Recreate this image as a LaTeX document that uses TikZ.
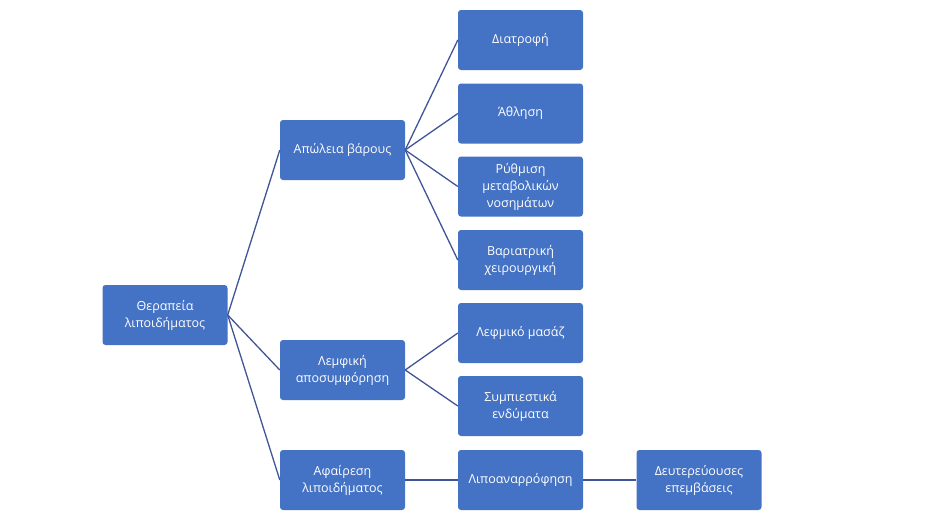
\documentclass[tikz,border=0pt]{standalone}
\usepackage{fontspec}
\setmainfont{Open Sans}
\begin{document}
\begin{tikzpicture}[x=1pt,y=-1pt,
 box/.style={fill=boxc,rounded corners=3pt,text=white,minimum width=125pt,minimum height=60pt,align=center,inner sep=2pt,font=\fontsize{12.5}{17}\selectfont},
 ln/.style={draw=linec,line width=1.3pt}]
\definecolor{boxc}{HTML}{4472C4}
\definecolor{linec}{HTML}{3F5597}
\useasboundingbox (0,0) rectangle (937,523);
\node[box] (r) at (165,315) {Θεραπεία\\λιποιδήματος};
\node[box] (a) at (342.5,150) {Απώλεια βάρους};
\node[box] (b) at (342.5,370) {Λεμφική\\αποσυμφόρηση};
\node[box] (c) at (342.5,480) {Αφαίρεση\\λιποιδήματος};
\node[box] (a1) at (520.5,40) {Διατροφή};
\node[box] (a2) at (520.5,113.5) {Άθληση};
\node[box] (a3) at (520.5,186.5) {Ρύθμιση\\μεταβολικών\\νοσημάτων};
\node[box] (a4) at (520.5,260) {Βαριατρική\\χειρουργική};
\node[box] (b1) at (520.5,333) {Λεφμικό μασάζ};
\node[box] (b2) at (520.5,406) {Συμπιεστικά\\ενδύματα};
\node[box] (c1) at (520.5,480) {Λιποαναρρόφηση};
\node[box] (d1) at (699,480) {Δευτερεύουσες\\επεμβάσεις};
\begin{scope}[on background layer/.try]
\end{scope}
\foreach \s/\t in {r/a,r/b,r/c,a/a1,a/a2,a/a3,a/a4,b/b1,b/b2,c/c1,c1/d1}
  \draw[ln] (\s.east) -- (\t.west);
\end{tikzpicture}
\end{document}
